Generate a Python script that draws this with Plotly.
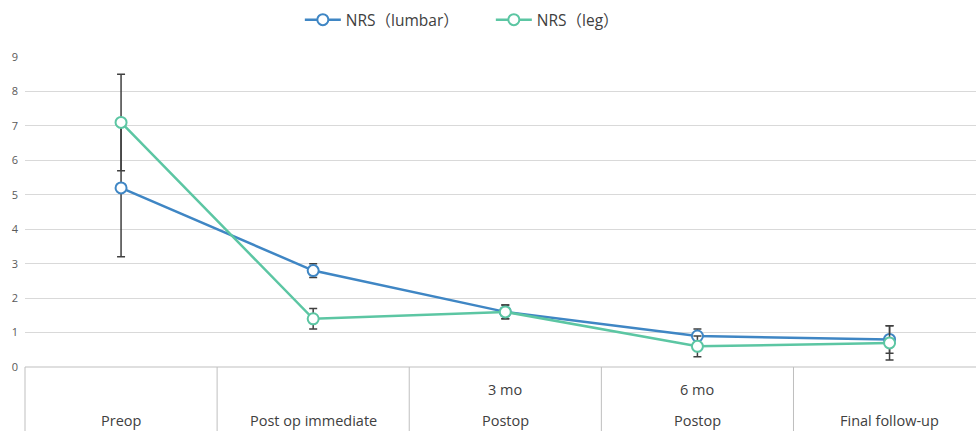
import plotly.graph_objects as go

# ---- data ----
cat_top = ["", "", "3 mo", "6 mo", ""]
cat_bottom = ["Preop", "Post op immediate", "Postop", "Postop", "Final follow-up"]
lumbar_mean = [5.2, 2.8, 1.6, 0.9, 0.8]
lumbar_sd = [2.0, 0.2, 0.2, 0.2, 0.4]
leg_mean = [7.1, 1.4, 1.6, 0.6, 0.7]
leg_sd = [1.4, 0.3, 0.2, 0.3, 0.5]
y_ticks = [0, 1, 2, 3, 4, 5, 6, 7, 8, 9]

x_idx = list(range(len(cat_bottom)))
XMIN, XMAX = -0.5, 4.45

FONT = "Open Sans, Noto Sans CJK SC, sans-serif"
C_LUMBAR = "#3f86c4"
C_LEG = "#5cc6a3"
C_ERR = "#404040"

fig = go.Figure()
for name, mean, sd, col in [("NRS（lumbar）", lumbar_mean, lumbar_sd, C_LUMBAR),
                            ("NRS（leg）", leg_mean, leg_sd, C_LEG)]:
    fig.add_trace(go.Scatter(
        x=x_idx, y=mean, name=name, mode="lines+markers",
        line=dict(color=col, width=2.5),
        marker=dict(symbol="circle", size=11, color="white",
                    line=dict(color=col, width=2)),
        error_y=dict(type="data", array=sd, visible=True,
                     color=C_ERR, thickness=1.5, width=4),
        cliponaxis=False,
    ))

# category box lines below the axis
def to_paper(v):
    return (v - XMIN) / (XMAX - XMIN)

shapes = []
for i in x_idx:
    xb = to_paper(i - 0.5)
    shapes.append(dict(type="line", xref="paper", yref="paper",
                       x0=xb, x1=xb, y0=0, y1=-0.22,
                       line=dict(color="#bfbfbf", width=1)))

annotations = []
for i in x_idx:
    if cat_top[i]:
        annotations.append(dict(x=i, y=-0.074, xref="x", yref="paper",
                                text=cat_top[i], showarrow=False,
                                font=dict(family=FONT, size=14.5, color="#404040"),
                                yanchor="middle"))
    annotations.append(dict(x=i, y=-0.171, xref="x", yref="paper",
                            text=cat_bottom[i], showarrow=False,
                            font=dict(family=FONT, size=14.5, color="#404040"),
                            yanchor="middle"))

fig.update_layout(
    width=976, height=431,
    margin=dict(l=25, r=0, t=57, b=64, autoexpand=False),
    paper_bgcolor="white", plot_bgcolor="white",
    font=dict(family=FONT, size=12, color="#595959"),
    showlegend=True,
    legend=dict(orientation="h", x=0.289, xanchor="left",
                y=1.119, yanchor="middle",
                font=dict(family=FONT, size=15.5, color="#404040"),
                itemwidth=36, entrywidth=140, entrywidthmode="pixels"),
    xaxis=dict(range=[XMIN, XMAX], showgrid=False, showticklabels=False,
               zeroline=False, showline=False, ticks="", automargin=False),
    yaxis=dict(range=[0, 9], tickvals=y_ticks, showgrid=True,
               gridcolor="#d9d9d9", gridwidth=1, zeroline=False,
               showline=False, ticks="", ticklabelstandoff=6, automargin=False,
               tickfont=dict(family=FONT, size=11, color="#595959")),
    shapes=shapes + [dict(type="line", xref="paper", yref="paper",
                          x0=0, x1=1, y0=0, y1=0,
                          line=dict(color="#bfbfbf", width=1))],
    annotations=annotations,
)

fig.write_html("out.html", config={"displayModeBar": False},
               post_script="document.body.style.margin='0';document.body.style.overflow='hidden';")
